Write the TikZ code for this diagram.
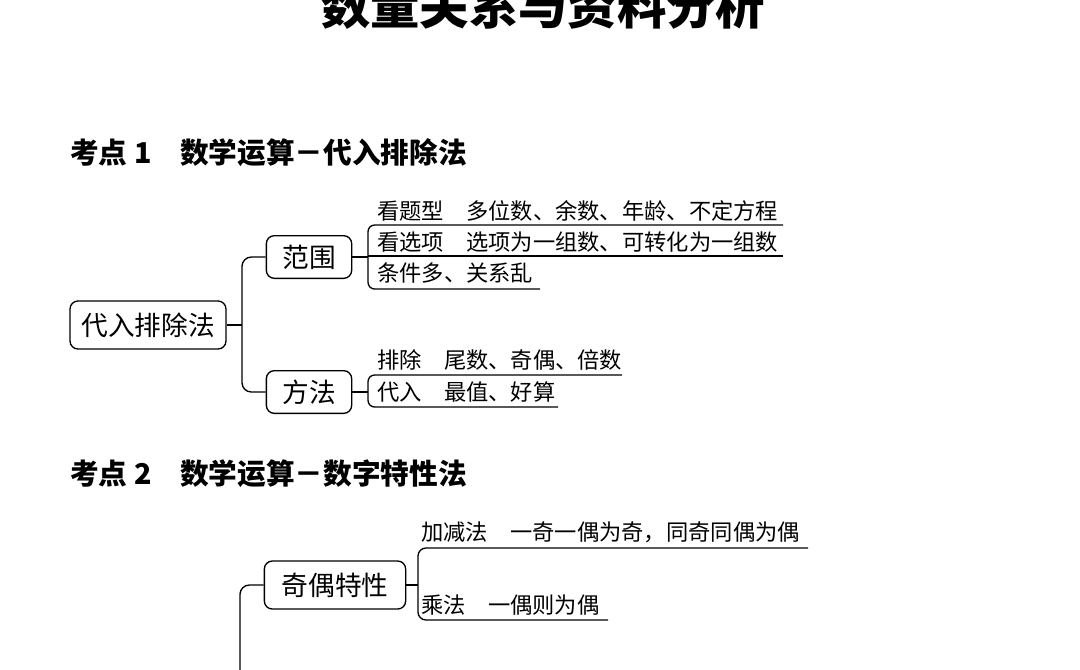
\documentclass[tikz,border=0pt]{standalone}
\usepackage{fontspec}
\setmainfont{Noto Sans CJK SC}
\begin{document}
\begin{tikzpicture}[x=0.75pt,y=-0.75pt,
  box/.style={draw,rounded corners=6pt,line width=1pt,inner sep=0pt,minimum height=36pt,font=\fontsize{20}{20}\selectfont},
  leaf/.style={anchor=west,inner sep=0pt,font=\fontsize{16.7}{16.7}\selectfont},
  ln/.style={line width=1pt},
  head/.style={anchor=west,inner sep=0pt,font=\fontsize{21.5}{21.5}\selectfont\bfseries}]
\useasboundingbox (0,0) rectangle (1080,669);
\node[inner sep=0pt,font=\fontsize{37}{37}\selectfont\bfseries] (title) at (543,6) {数量关系与资料分析};
\node[head] (h1) at (70,153) {考点 1\quad 数学运算－代入排除法};
\node[head] (h2) at (70,474) {考点 2\quad 数学运算－数字特性法};
% part 1
\node[box,minimum width=117pt] (root) at (148,325) {代入排除法};
\node[box,minimum width=64pt,minimum height=32pt] (fw) at (309,257) {范围};
\node[box,minimum width=64pt,minimum height=32pt] (ff) at (309,392) {方法};
\coordinate (j1) at (242,325);
\draw[ln] (root.east) -- (j1);
\draw[ln,rounded corners=7pt] (fw.west) -| (j1) |- (ff.west);
\node[leaf] (a1) at (377,211) {看题型\quad 多位数、余数、年龄、不定方程};
\node[leaf] (a2) at (377,242) {看选项\quad 选项为一组数、可转化为一组数};
\node[leaf] (a3) at (377,273) {条件多、关系乱};
\coordinate (b1) at (368,257);
\draw[ln] (fw.east) -- (b1);
\draw[ln,rounded corners=5pt] (783,225) -- (368,225) -- (368,289) -- (540,289);
\draw[ln] (368,256) -- (783,256);
\node[leaf] (c1) at (377,360) {排除\quad 尾数、奇偶、倍数};
\node[leaf] (c2) at (377,392) {代入\quad 最值、好算};
\draw[ln] (ff.east) -- (368,392);
\draw[ln,rounded corners=5pt] (622,375) -- (368,375) -- (368,407) -- (558,407);
% part 2
\node[box,minimum width=106pt] (jo) at (335,585) {奇偶特性};
\draw[ln,rounded corners=7pt] (jo.west) -- (240,585) -- (240,680);
\draw[ln] (jo.east) -- (418,585);
\node[leaf] (d1) at (421,532) {加减法\quad 一奇一偶为奇，同奇同偶为偶};
\node[leaf] (d2) at (421,605) {乘法\quad 一偶则为偶};
\draw[ln,rounded corners=6pt] (808,548) -- (418,548) -- (418,620) -- (608,620);
\end{tikzpicture}
\end{document}
